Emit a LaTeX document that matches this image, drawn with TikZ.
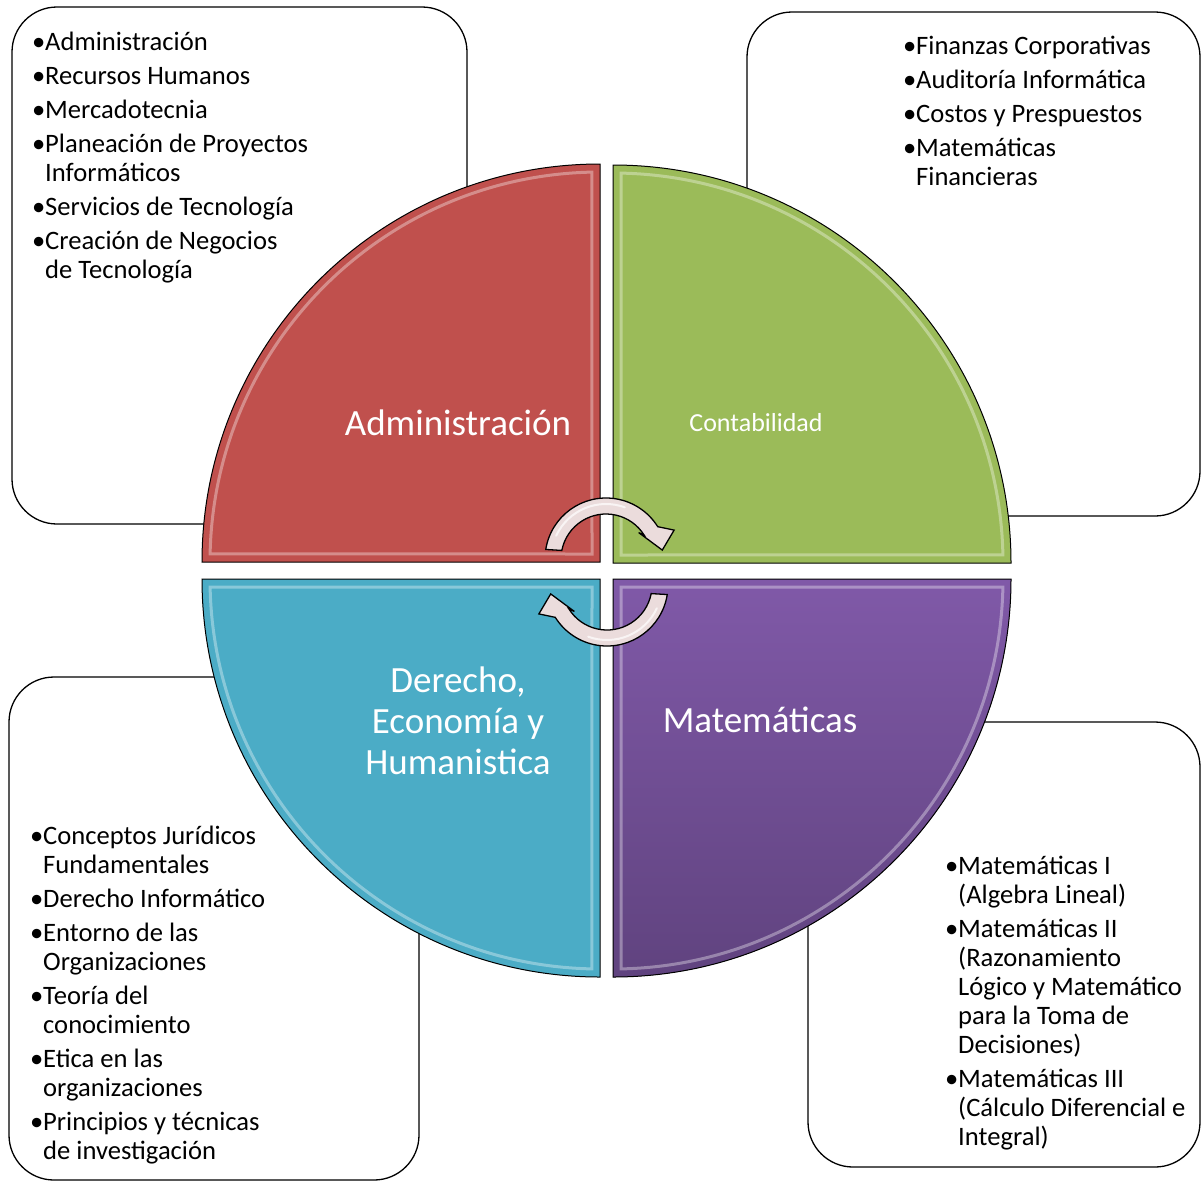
\documentclass[tikz,border=0pt]{standalone}
\usepackage{fontspec}
\setmainfont{Carlito}

\definecolor{admred}{HTML}{C0504D}
\definecolor{contgreen}{HTML}{9BBB59}
\definecolor{derblue}{HTML}{4BACC6}
\definecolor{matpurple}{HTML}{8059A8}
\definecolor{matdark}{HTML}{60437F}
\definecolor{turnfill}{HTML}{EBDCDC}

\newcommand{\bul}{\makebox[13pt][l]{\textbullet}}
\newcommand{\ind}{\hspace*{13pt}}

\begin{document}
\begin{tikzpicture}[x=1pt,y=1pt]
    \tikzstyle{box} = [draw=black, line width=1.3pt, fill=white,
    rounded corners=45pt];
    \tikzstyle{quad} = [draw=black, line width=1pt];
    \tikzstyle{rim} = [white, opacity=0.35, line width=3pt];
    \tikzstyle{list} = [anchor=north west, align=left, inner sep=0pt,
    font=\fontsize{26.6}{29}\selectfont];
    \tikzstyle{title} = [text=white, align=center, inner sep=0pt,
    font=\fontsize{37}{41}\selectfont];
    \tikzstyle{turn} = [draw=black, line width=1.3pt, fill=turnfill];
    \tikzstyle{gloss} = [white, opacity=0.7, line width=2pt, line cap=round];

    \useasboundingbox (0,0) rectangle (1201,-1184);

    \draw[box] (12,-7) rectangle (467,-524);
    \draw[box] (747,-12) rectangle (1200,-516);
    \draw[box] (9,-677) rectangle (419,-1180);
    \draw[box] (808,-722) rectangle (1200,-1167);

    \node[list] (adminlist) at (32,-32) {\bul Administración\\[5pt]
        \bul Recursos Humanos\\[5pt]
        \bul Mercadotecnia\\[5pt]
        \bul Planeación de Proyectos\\
        \ind Informáticos\\[5pt]
        \bul Servicios de Tecnología\\[5pt]
        \bul Creación de Negocios\\
        \ind de Tecnología};
    \node[list] (contalist) at (903,-36) {\bul Finanzas Corporativas\\[5pt]
        \bul Auditoría Informática\\[5pt]
        \bul Costos y Prespuestos\\[5pt]
        \bul Matemáticas\\
        \ind Financieras};
    \node[list] (derlist) at (30,-826) {\bul Conceptos Jurídicos\\
        \ind Fundamentales\\[5pt]
        \bul Derecho Informático\\[5pt]
        \bul Entorno de las\\
        \ind Organizaciones\\[5pt]
        \bul Teoría del\\
        \ind conocimiento\\[5pt]
        \bul Etica en las\\
        \ind organizaciones\\[5pt]
        \bul Principios y técnicas\\
        \ind de investigación};
    \node[list] (matelist) at (945,-856) {\bul Matemáticas I\\
        \ind (Algebra Lineal)\\[5pt]
        \bul Matemáticas II\\
        \ind (Razonamiento\\
        \ind Lógico y Matemático\\
        \ind para la Toma de\\
        \ind Decisiones)\\[5pt]
        \bul Matemáticas III\\
        \ind (Cálculo Diferencial e\\
        \ind Integral)};

    \begin{scope}[shift={(600,-562)}]
        \filldraw[quad, fill=admred] (0,0) -- (180:398)
            arc[start angle=180, end angle=90, radius=398] -- cycle;
        \draw[rim] (-8,8) -- (178.8:390)
            arc[start angle=178.8, end angle=91.2, radius=390] -- cycle;
    \end{scope}
    \begin{scope}[shift={(613,-563)}]
        \filldraw[quad, fill=contgreen] (0,0) -- (90:398)
            arc[start angle=90, end angle=0, radius=398] -- cycle;
        \draw[rim] (8,8) -- (88.8:390)
            arc[start angle=88.8, end angle=1.2, radius=390] -- cycle;
    \end{scope}
    \begin{scope}[shift={(600,-579)}]
        \filldraw[quad, fill=derblue] (0,0) -- (270:398)
            arc[start angle=270, end angle=180, radius=398] -- cycle;
        \draw[rim] (-8,-8) -- (268.8:390)
            arc[start angle=268.8, end angle=181.2, radius=390] -- cycle;
    \end{scope}
    \begin{scope}[shift={(613,-579)}]
        \filldraw[quad, top color=matpurple, bottom color=matdark] (0,0)
            -- (0:398) arc[start angle=0, end angle=-90, radius=398] -- cycle;
        \draw[rim] (8,-8) -- (-1.2:390)
            arc[start angle=-1.2, end angle=-88.8, radius=390] -- cycle;
    \end{scope}

    \node[title, anchor=base] (admin) at (458,-435) {Administración};
    \node[title, anchor=base, font=\fontsize{26}{30}\selectfont]
        (conta) at (756,-431) {Contabilidad};
    \node[title, anchor=north] (derecho) at (458,-667)
        {Derecho,\\Economía y\\Humanistica};
    \node[title, anchor=base] (mate) at (760,-732) {Matemáticas};

    \begin{scope}[shift={(606,-559)}]
        \filldraw[turn] (171:61) arc[start angle=171, end angle=32, radius=61]
            -- (23:74) -- (9:57) -- (39:42) -- (32:45)
            arc[start angle=32, end angle=169, radius=45] -- cycle;
        \draw[gloss] (155:55) arc[start angle=155, end angle=70, radius=55];
    \end{scope}
    \begin{scope}[shift={(607,-585)}, rotate=180]
        \filldraw[turn] (171:61) arc[start angle=171, end angle=32, radius=61]
            -- (23:74) -- (9:57) -- (39:42) -- (32:45)
            arc[start angle=32, end angle=169, radius=45] -- cycle;
        \draw[gloss] (155:55) arc[start angle=155, end angle=70, radius=55];
    \end{scope}
\end{tikzpicture}
\end{document}
